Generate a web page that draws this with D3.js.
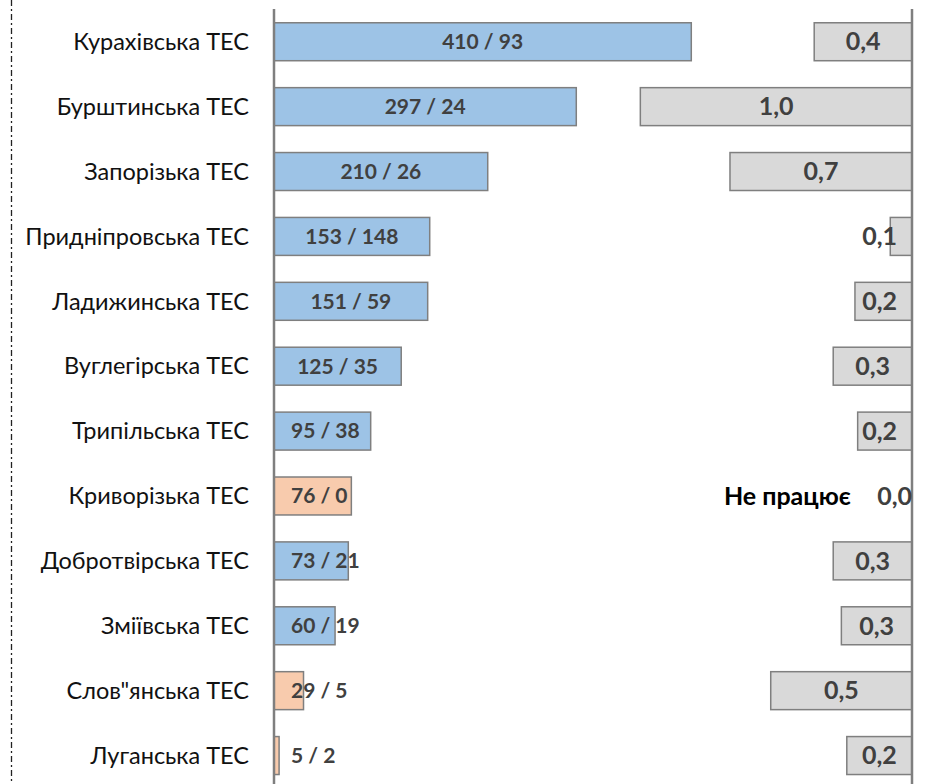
<!DOCTYPE html>
<meta charset="utf-8">
<style>
  body { margin: 0; background: #fff; }
  text { font-family: Lato, "Noto Sans", "Open Sans", sans-serif; }
</style>
<svg id="chart" width="925" height="784"></svg>
<script src="https://d3js.org/d3.v7.min.js"></script>
<script>

// TPP names, top to bottom
var plants = ["Курахівська ТЕС", "Бурштинська ТЕС", "Запорізька ТЕС", "Придніпровська ТЕС",
	"Ладижинська ТЕС", "Вуглегірська ТЕС", "Трипільська ТЕС", "Криворізька ТЕС",
	"Добротвірська ТЕС", "Зміївська ТЕС", "Слов\"янська ТЕС", "Луганська ТЕС"];

// left bars: first number drives the bar, second one only goes in the label
var leftValues = [410, 297, 210, 153, 151, 125, 95, 76, 73, 60, 29, 5];
var secondValues = [93, 24, 26, 148, 59, 35, 38, 0, 21, 19, 5, 2];

// coal grade -> bar colour
var coalType = ["газове", "газове", "газове", "газове", "газове", "газове", "газове",
	"антрацит", "газове", "газове", "антрацит", "антрацит"];

// right bars
var rightValues = [0.36, 1.0, 0.67, 0.08, 0.21, 0.29, 0.2, 0, 0.29, 0.26, 0.52, 0.24];

var svg = d3.select("svg#chart"),
	width = +svg.attr("width"),
	height = +svg.attr("height");

var leftAxisX = 274,
	rightAxisX = 912;

var y = d3.scaleBand()
	.domain(plants)
	.range([9.3, 788])
	.paddingInner(0.415)
	.paddingOuter(0.2075);

var xLeft = d3.scaleLinear()
	.domain([0, 450])
	.range([leftAxisX, leftAxisX + 458]);

var xRight = d3.scaleLinear()
	.domain([0, 1.2])
	.range([rightAxisX, rightAxisX - 326]);

var colour = d3.scaleOrdinal()
	.domain(["газове", "антрацит"])
	.range(["#9dc3e6", "#f8cbad"]);

var fmt = function(v) { return d3.format(".1f")(v).replace(".", ","); };

var rows = plants.map(function(p, i) {
	return { name: p, a: leftValues[i], b: secondValues[i], type: coalType[i], r: rightValues[i] };
});

// dash-dot frame line on the far left
svg.append("line")
	.attr("x1", 11.5).attr("x2", 11.5)
	.attr("y1", 0).attr("y2", height)
	.attr("stroke", "#222")
	.attr("stroke-width", 1.3)
	.attr("stroke-dasharray", "6,3,2,3");

// category labels
svg.append("g").selectAll("text")
	.data(rows)
	.enter().append("text")
		.attr("x", 249)
		.attr("y", function(d) { return y(d.name) + y.bandwidth() / 2; })
		.attr("dy", "0.35em")
		.attr("text-anchor", "end")
		.attr("font-size", 23.5)
		.attr("font-weight", 400)
		.attr("fill", "#111")
		.text(function(d) { return d.name; });

// left bars
svg.append("g").selectAll("rect")
	.data(rows)
	.enter().append("rect")
		.attr("x", xLeft(0))
		.attr("y", function(d) { return y(d.name); })
		.attr("width", function(d) { return xLeft(d.a) - xLeft(0); })
		.attr("height", y.bandwidth())
		.attr("fill", function(d) { return colour(d.type); })
		.attr("stroke", "#7f7f7f")
		.attr("stroke-width", 1.5);

// right bars
svg.append("g").selectAll("rect")
	.data(rows.filter(function(d) { return d.r > 0; }))
	.enter().append("rect")
		.attr("x", function(d) { return xRight(d.r); })
		.attr("y", function(d) { return y(d.name); })
		.attr("width", function(d) { return xRight(0) - xRight(d.r); })
		.attr("height", y.bandwidth())
		.attr("fill", "#d9d9d9")
		.attr("stroke", "#7f7f7f")
		.attr("stroke-width", 1.5);

// axis lines
[leftAxisX, rightAxisX].forEach(function(x) {
	svg.append("line")
		.attr("x1", x).attr("x2", x)
		.attr("y1", 9).attr("y2", height)
		.attr("stroke", "#7f7f7f")
		.attr("stroke-width", 2.5);
});

// left labels: centred in the bar, but never closer than 17px to the axis
svg.append("g").selectAll("text")
	.data(rows)
	.enter().append("text")
		.attr("y", function(d) { return y(d.name) + y.bandwidth() / 2; })
		.attr("dy", "0.35em")
		.attr("text-anchor", "middle")
		.attr("font-size", 21)
		.attr("font-weight", "bold")
		.attr("fill", "#404040")
		.text(function(d) { return d.a + " / " + d.b; })
		.attr("x", function(d) {
			var w = this.getComputedTextLength();
			var c = (xLeft(0) + xLeft(d.a)) / 2;
			return Math.max(c, xLeft(0) + 17 + w / 2);
		});

// right labels
svg.append("g").selectAll("text")
	.data(rows)
	.enter().append("text")
		.attr("y", function(d) { return y(d.name) + y.bandwidth() / 2; })
		.attr("dy", "0.35em")
		.attr("text-anchor", "middle")
		.attr("font-size", 25)
		.attr("font-weight", "bold")
		.attr("fill", "#404040")
		.text(function(d) { return fmt(d.r); })
		.attr("x", function(d) {
			var w = this.getComputedTextLength();
			if (d.r === 0) return xRight(0) - w / 2;
			var c = (xRight(0) + xRight(d.r)) / 2;
			return Math.min(c, xRight(0) - 15 - w / 2);
		});

// plant that is idle
svg.append("g").selectAll("text")
	.data(rows.filter(function(d) { return d.r === 0; }))
	.enter().append("text")
		.attr("x", xRight(0) - 61)
		.attr("y", function(d) { return y(d.name) + y.bandwidth() / 2; })
		.attr("dy", "0.35em")
		.attr("text-anchor", "end")
		.attr("font-size", 25)
		.attr("font-weight", "bold")
		.attr("fill", "#000")
		.text("Не працює");

</script>
